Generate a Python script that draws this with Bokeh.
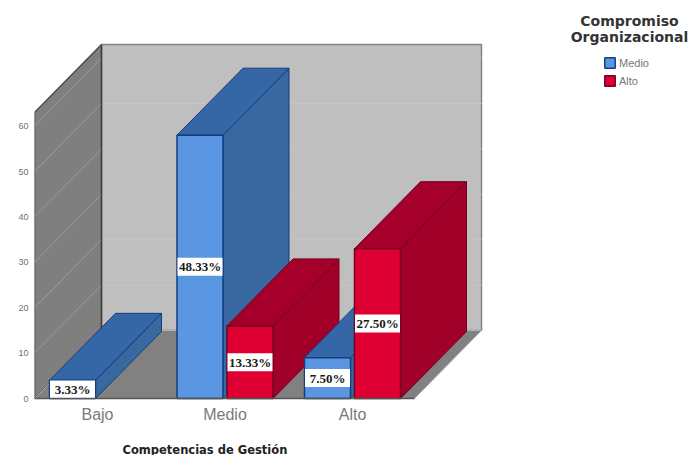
from bokeh.core.properties import value
from bokeh.embed import file_html
from bokeh.models import FixedTicker, Legend, LegendItem, Range1d
from bokeh.plotting import figure
from bokeh.resources import INLINE

# Data: share of the 120 cases in each cell of the cross-tabulation
categories = ["Bajo", "Medio", "Alto"]
series_names = ["Medio", "Alto"]
medio_pct = [3.33, 48.33, 7.50]
alto_pct = [None, 13.33, 27.50]
total_cases = 120
y_ticks = [0, 10, 20, 30, 40, 50, 60]
x_title = "Competencias de Gestión"
legend_title = ["Compromiso", "Organizacional"]

# Page layout, in pixels
WIDTH, HEIGHT = 690, 455
LEFT, BASELINE_UP = 34, 57
PX_PER_CAT = 127.5
PX_PER_COUNT = 4.54
FIRST_CAT_PX = 97

# Oblique projection: depth runs up and to the right
DEPTH_X = 66 / PX_PER_CAT
DEPTH_Y = 67 / PX_PER_COUNT
WALL_DX = 67 / PX_PER_CAT
WALL_DY = 68 / PX_PER_COUNT
BAR_W = 46 / PX_PER_CAT
GAP = 4 / PX_PER_CAT
X0 = (LEFT - FIRST_CAT_PX) / PX_PER_CAT
X1 = X0 + 380 / PX_PER_CAT
WALL_TOP = 63

STYLES = {
    "Medio": dict(front="#5a96e2", side="#38689f", top="#3566a6", edge="#123f80"),
    "Alto": dict(front="#de0033", side="#a10029", top="#a4002b", edge="#750022"),
}

p = figure(
    width=WIDTH, height=HEIGHT, output_backend="svg", toolbar_location=None,
    x_range=Range1d(X0, X0 + (WIDTH - LEFT) / PX_PER_CAT),
    y_range=Range1d(-BASELINE_UP / PX_PER_COUNT, (HEIGHT - BASELINE_UP) / PX_PER_COUNT),
    min_border_left=LEFT, min_border_bottom=0, min_border_top=0, min_border_right=0,
    outline_line_color=None, background_fill_color="white",
)
p.grid.visible = False

# Axes: only their labels show, the box draws the lines
p.yaxis.ticker = FixedTicker(ticks=y_ticks)
p.yaxis.axis_line_color = None
p.yaxis.major_tick_line_color = None
p.yaxis.minor_tick_line_color = None
p.yaxis.major_tick_out = 0
p.yaxis.major_tick_in = 0
p.yaxis.major_label_text_font = "Liberation Sans"
p.yaxis.major_label_text_font_size = "9px"
p.yaxis.major_label_text_color = "#707070"
p.yaxis.major_label_standoff = 6

p.xaxis.fixed_location = 0
p.xaxis.ticker = FixedTicker(ticks=list(range(len(categories))))
p.xaxis.major_label_overrides = {i: c for i, c in enumerate(categories)}
p.xaxis.axis_line_color = None
p.xaxis.major_tick_line_color = None
p.xaxis.minor_tick_line_color = None
p.xaxis.major_tick_out = 0
p.xaxis.major_tick_in = 0
p.xaxis.major_label_text_font = "Liberation Sans"
p.xaxis.major_label_text_font_size = "16px"
p.xaxis.major_label_text_color = "#7a7a7a"
p.xaxis.major_label_standoff = 7

# Box walls and floor
p.patch([X0, X0 + WALL_DX, X0 + WALL_DX, X0], [0, WALL_DY, WALL_TOP + WALL_DY, WALL_TOP],
        fill_color="#7f7f7f", line_color="#4d4d4d", line_width=1.5)
p.patch([X0 + WALL_DX, X1 + WALL_DX, X1 + WALL_DX, X0 + WALL_DX],
        [WALL_DY, WALL_DY, WALL_TOP + WALL_DY, WALL_TOP + WALL_DY],
        fill_color="#bfbfbf", line_color="#858585", line_width=1.5)
p.patch([X0, X1, X1 + WALL_DX, X0 + WALL_DX], [0, 0, WALL_DY, WALL_DY],
        fill_color="#818181", line_color="#b0b0b0", line_width=1)

# Gridlines on the left and back walls
for t in y_ticks[1:]:
    p.line([X0, X0 + WALL_DX], [t, t + WALL_DY], line_color="#9d9d9d", line_width=1)
    p.line([X0 + WALL_DX, X1 + WALL_DX], [t + WALL_DY, t + WALL_DY], line_color="#c5c5c5", line_width=1)
p.line([X0 + WALL_DX, X0 + WALL_DX], [WALL_DY, WALL_TOP + WALL_DY], line_color="#3f3f3f", line_width=1.5)

legend_renderers = {}
label_x, label_y, label_text = [], [], []

# Painted left to right so nearer faces cover the sides of earlier bars
for i, cat in enumerate(categories):
    for name, values, sign in ((series_names[0], medio_pct, -1), (series_names[1], alto_pct, 1)):
        pct = values[i]
        if pct is None:
            continue
        count = pct * total_cases / 100
        s = STYLES[name]
        left = i - GAP / 2 - BAR_W if sign < 0 else i + GAP / 2
        right = left + BAR_W
        p.patch([right, right + DEPTH_X, right + DEPTH_X, right],
                [0, DEPTH_Y, count + DEPTH_Y, count],
                fill_color=s["side"], line_color=s["edge"], line_width=1)
        p.patch([left, right, right + DEPTH_X, left + DEPTH_X],
                [count, count, count + DEPTH_Y, count + DEPTH_Y],
                fill_color=s["top"], line_color=s["edge"], line_width=1)
        front = p.quad(left=left, right=right, bottom=0, top=count,
                       fill_color=s["front"], line_color=s["edge"], line_width=1.5)
        legend_renderers.setdefault(name, front)
        label_x.append((left + right) / 2)
        label_y.append(count / 2)
        label_text.append(f"{pct:.2f}%")

# Value labels on white plates
p.rect(label_x, label_y, width=45 / PX_PER_CAT, height=18 / PX_PER_COUNT,
       fill_color="white", line_color=None)
p.text(label_x, label_y, text=label_text, text_align="center", text_baseline="middle",
       text_font=value("Liberation Serif"), text_font_style="bold", text_font_size="13px",
       text_color="#1a1a1a")

# Floor baseline
p.line([X0, X1], [0, 0], line_color="#555555", line_width=1.5)

# Category axis title
p.text([X0 + (122 - LEFT) / PX_PER_CAT], [-51 / PX_PER_COUNT], text=[x_title],
       text_align="left", text_baseline="middle",
       text_font=value("DejaVu Sans"), text_font_style="bold", text_font_size="11.5px",
       text_color="#222222")

# Legend heading and swatches
heading_x = X0 + (629 - LEFT) / PX_PER_CAT
for j, line in enumerate(legend_title):
    p.text([heading_x], [(HEIGHT - BASELINE_UP - 20 - j * 16) / PX_PER_COUNT], text=[line],
           text_align="center", text_baseline="middle",
           text_font=value("DejaVu Sans"), text_font_style="bold", text_font_size="14px",
           text_color="#333333")

legend = Legend(
    items=[LegendItem(label=n, renderers=[legend_renderers[n]]) for n in series_names],
    location=(569, 368), orientation="vertical", border_line_color=None,
    background_fill_alpha=0, padding=0, margin=0, spacing=5,
    glyph_width=13, glyph_height=13, label_standoff=3,
    label_text_font="Liberation Sans", label_text_font_size="11px", label_text_color="#777777",
    label_height=13,
)
p.add_layout(legend, "center")

open("out.html", "w").write(file_html(p, INLINE))
